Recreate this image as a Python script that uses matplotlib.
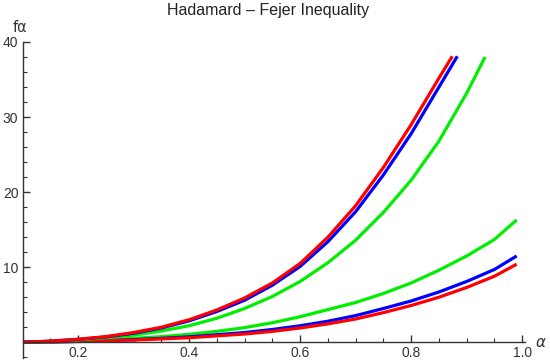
import numpy as np
import matplotlib.pyplot as plt
from matplotlib.ticker import MultipleLocator

plt.rcParams['font.family'] = ['Liberation Sans', 'DejaVu Sans']

# upper branch of each inequality
alpha_up = [0.10, 0.15, 0.20, 0.25, 0.30, 0.35, 0.40, 0.45, 0.50, 0.55, 0.60, 0.65, 0.70, 0.75, 0.80, 0.85]
red_up = [0.0, 0.15, 0.4, 0.75, 1.3, 2.0, 3.0, 4.3, 5.9, 7.9, 10.5, 14.0, 18.2, 23.3, 29.0, 35.2]
blue_up = [0.0, 0.14, 0.38, 0.7, 1.2, 1.9, 2.85, 4.1, 5.6, 7.6, 10.1, 13.4, 17.4, 22.3, 27.8, 34.0]
green_up = [0.0, 0.1, 0.3, 0.6, 0.95, 1.5, 2.2, 3.2, 4.5, 6.1, 8.1, 10.6, 13.6, 17.3, 21.6, 26.8]
red_end = (0.874, 38.1)
blue_end = (0.883, 38.1)
green_tail = ([0.90, 0.933], [33.2, 38.0])

# lower branch
alpha_lo = [0.10, 0.15, 0.20, 0.25, 0.30, 0.35, 0.40, 0.45, 0.50, 0.55, 0.60, 0.65, 0.70, 0.75, 0.80, 0.85, 0.90, 0.95, 0.99]
red_lo = [0.0, 0.03, 0.1, 0.2, 0.3, 0.45, 0.6, 0.85, 1.1, 1.45, 1.9, 2.45, 3.1, 3.95, 4.9, 6.0, 7.3, 8.8, 10.4]
blue_lo = [0.0, 0.04, 0.12, 0.22, 0.35, 0.52, 0.72, 1.0, 1.3, 1.7, 2.2, 2.8, 3.55, 4.5, 5.5, 6.7, 8.1, 9.7, 11.5]
green_lo = [0.0, 0.06, 0.18, 0.33, 0.52, 0.75, 1.05, 1.45, 1.95, 2.6, 3.4, 4.35, 5.3, 6.5, 7.9, 9.6, 11.5, 13.7, 16.3]

fig = plt.figure(figsize=(5.5, 3.62), dpi=100)
ax = fig.add_axes([0.041, 0.011, 0.9136, 0.873])

lw = 2.3
kw = dict(lw=lw, solid_joinstyle='round', solid_capstyle='butt')
ax.plot(alpha_lo, green_lo, color='#00ee00', **kw)
ax.plot(alpha_lo, blue_lo, color='#0000ff', **kw)
ax.plot(alpha_lo, red_lo, color='#ff0000', **kw)
ax.plot(alpha_up + list(green_tail[0]), green_up + list(green_tail[1]), color='#00ee00', **kw)
ax.plot(alpha_up + [blue_end[0]], blue_up + [blue_end[1]], color='#0000ff', **kw)
ax.plot(alpha_up + [red_end[0]], red_up + [red_end[1]], color='#ff0000', **kw)

ax.set_xlim(0.1, 1.005)
ax.set_ylim(-2.1, 40)

for s in ['top', 'right']:
    ax.spines[s].set_visible(False)
ax.spines['bottom'].set_position(('data', 0))
ax.spines['left'].set_position(('data', 0.1))
for s in ['bottom', 'left']:
    ax.spines[s].set_color('#333333')
    ax.spines[s].set_linewidth(1.0)

ax.xaxis.set_major_locator(MultipleLocator(0.2))
ax.xaxis.set_minor_locator(MultipleLocator(0.05))
ax.set_yticks([10, 20, 30, 40])
ax.yaxis.set_minor_locator(MultipleLocator(2))
ax.tick_params(which='major', direction='in', length=5, width=1, color='#333333',
               labelsize=10, labelcolor='#333333', pad=3)
ax.tick_params(which='minor', direction='in', length=3, width=0.8, color='#333333')
ax.set_xticks([0.2, 0.4, 0.6, 0.8, 1.0])
ax.set_xticklabels(['0.2', '0.4', '0.6', '0.8', '1.0'])
ax.set_yticklabels(['10', '20', '30', '40'])

fig.text(0.487, 0.972, 'Hadamard \u2013 Fejer Inequality', ha='center', va='center',
         fontsize=11.5, color='#222222')
fig.text(0.037, 0.925, 'f\u03b1', ha='center', va='center', fontsize=10.5, color='#333333',
         family=['DejaVu Sans'])
fig.text(0.982, 0.053, '\u03b1', ha='center', va='center', fontsize=11, color='#333333',
         family=['DejaVu Sans'], style='italic')

fig.savefig('out.png', dpi=100)
